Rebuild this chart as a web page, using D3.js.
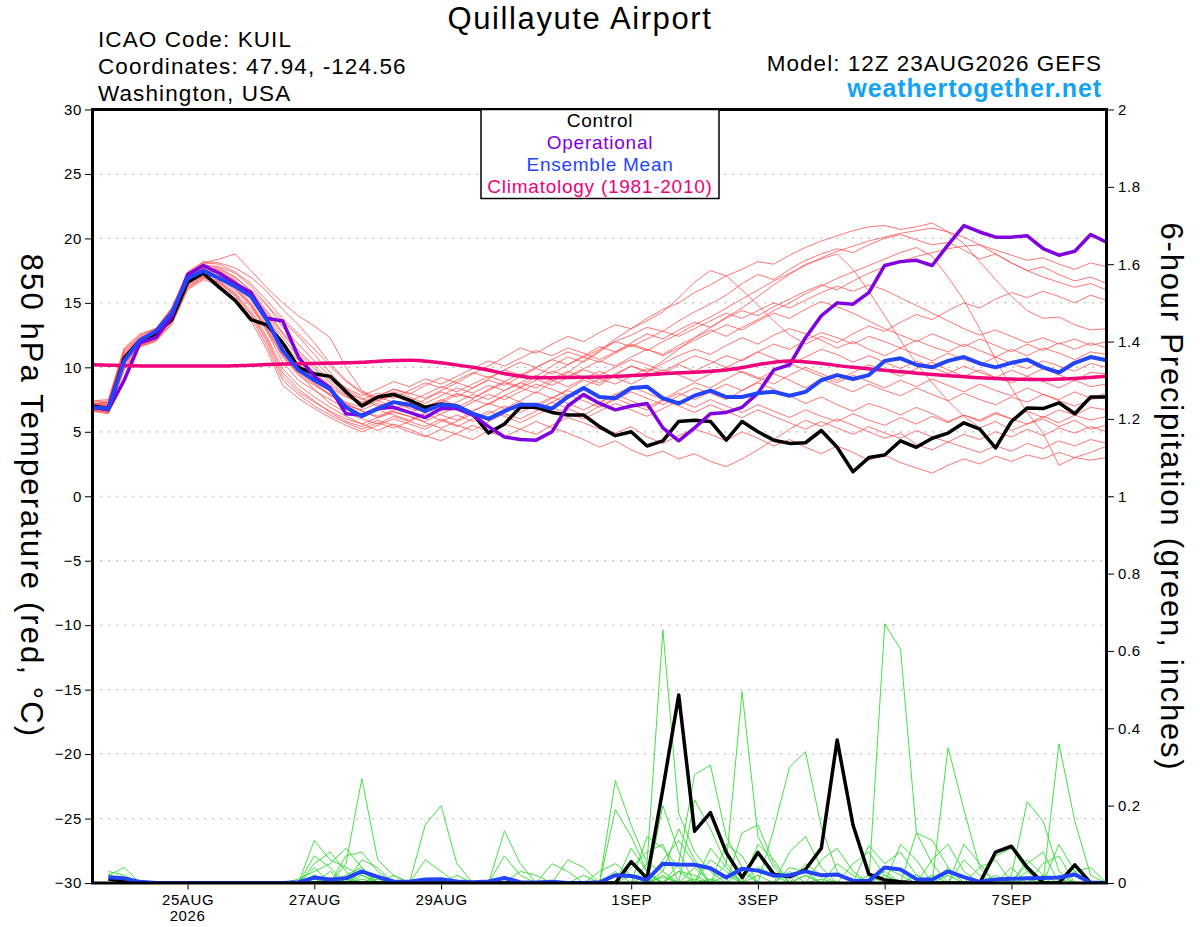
<!DOCTYPE html>
<html>
<head>
<meta charset="utf-8">
<script src="https://cdn.jsdelivr.net/npm/d3@7"></script>
<style>
  body { margin: 0; background: #fff; }
  svg { font-family: 'Liberation Sans', Arial, Helvetica, sans-serif; }
</style>
</head>
<body>
<svg id="chart" width="1200" height="927"></svg>
<script>
// run start, 6-hourly steps
const runStart = '2026-08-23T12:00:00Z'
const stepHours = 6

// 850 hPa temperature, degC, 12Z 23AUG .. 12Z 8SEP every 6h (65 values)
const control = [
  7.0, 6.8, 10.7, 12.1, 12.6, 13.7, 16.6, 17.3, 16.2, 15.2, 13.7, 13.3, 11.9,
  10.0, 9.5, 9.3, 8.1, 7.0, 7.7, 7.9, 7.45, 6.9, 7.15, 7.0, 6.4, 4.9,
  5.6, 6.9, 6.9, 6.5, 6.3, 6.3, 5.4, 4.7, 5.0, 3.9, 4.3, 5.8, 5.9,
  5.8, 4.35, 5.8, 5.0, 4.35, 4.1, 4.15, 5.1, 3.8, 1.9, 3.0, 3.2, 4.3,
  3.8, 4.5, 4.9, 5.7, 5.2, 3.75, 5.8, 6.85, 6.8, 7.25, 6.4, 7.7, 7.7
]
const operational = [
  6.9, 6.7, 9.0, 11.9, 12.3, 13.9, 17.2, 17.9, 17.3, 16.5, 15.8, 13.8, 13.6,
  10.8, 9.3, 8.4, 6.4, 6.3, 6.8, 6.9, 6.5, 6.1, 6.8, 6.8, 6.3, 5.4,
  4.6, 4.4, 4.35, 5.0, 7.0, 7.9, 7.2, 6.7, 7.0, 7.2, 5.3, 4.3, 5.3,
  6.4, 6.5, 6.9, 8.0, 9.8, 10.2, 12.3, 14.0, 15.0, 14.9, 15.8, 17.9, 18.2,
  18.3, 17.9, 19.5, 21.0, 20.5, 20.1, 20.1, 20.2, 19.2, 18.7, 19.0, 20.3, 19.7
]
const ensembleMean = [
  6.9, 6.8, 10.5, 12.1, 12.8, 14.2, 16.9, 17.5, 16.9, 16.3, 15.5, 13.7, 11.3,
  9.8, 9.0, 8.3, 6.9, 6.2, 6.8, 7.3, 7.1, 6.6, 7.1, 7.0, 6.4, 6.0,
  6.6, 7.1, 7.1, 6.8, 7.7, 8.4, 7.7, 7.6, 8.4, 8.5, 7.6, 7.2, 7.8,
  8.2, 7.7, 7.7, 8.0, 8.1, 7.8, 8.1, 9.0, 9.4, 9.1, 9.4, 10.5, 10.7,
  10.2, 10.0, 10.5, 10.8, 10.3, 10.0, 10.35, 10.6, 10.0, 9.6, 10.35, 10.8, 10.55
]
// climatology, one value per day at 12Z
const climatology = [10.2, 10.1, 10.1, 10.25, 10.35, 10.55, 10.0, 9.2, 9.25, 9.5, 9.8, 10.5, 10.0, 9.55, 9.2, 9.05, 9.3]

// ensemble members, temperature
const memberTemps = [
  [7.2,7.0,11.2,12.3,12.9,14.5,17.2,18.0,17.7,17.0,16.0,14.8,13.6, 12.4,11.0,9.6,8.3,7.6,7.0,7.3,6.8,6.6,7.2,7.9,7.6,8.3, 8.9,8.5,9.3,10.1,10.8,10.4,11.2,12.0,12.5,13.1,12.8,13.6,14.3, 14.9,15.6,16.5,17.2,16.8,17.6,18.3,18.8,19.2,18.9,19.5,20.0,20.3, 19.9,19.5,19.7,19.1,18.4,18.8,18.1,17.5,17.8,17.2,16.7,17.0,16.5],
  [6.8,6.7,10.5,11.8,12.5,14.0,16.7,17.4,17.0,16.2,14.9,13.0,10.8, 9.4,8.6,7.9,7.2,6.6,6.1,6.5,6.2,5.8,6.4,6.9,7.5,7.1, 7.8,8.4,8.0,8.9,9.6,10.5,11.3,12.2,13.0,13.8,14.5,15.0,15.8, 16.4,17.1,17.6,18.2,18.0,18.7,19.3,19.8,20.2,20.6,20.9,21.0,20.7, 20.9,21.2,20.5,19.6,18.2,16.8,15.5,14.4,13.8,13.9,13.3,12.9,13.0],
  [6.9,6.6,10.2,11.7,12.2,13.6,16.3,17.0,16.6,15.6,14.2,12.2,9.6, 8.3,7.4,6.5,5.8,5.4,5.9,5.5,5.0,4.6,5.2,4.8,4.4,5.1, 5.6,5.2,4.8,5.5,6.1,5.7,5.2,4.9,5.4,4.6,4.1,4.7,5.2, 4.8,4.3,5.0,4.5,3.9,4.4,3.8,3.3,3.9,3.4,2.8,3.2,2.6, 2.2,1.8,2.4,2.9,2.5,3.1,2.7,3.2,2.9,3.4,3.0,2.8,3.0],
  [7.1,7.3,11.0,12.1,12.8,14.3,17.0,17.8,17.5,16.8,15.5,13.9,12.0, 10.5,9.3,8.1,7.3,6.9,7.4,7.0,6.5,6.9,6.3,5.9,6.6,7.2, 6.8,7.4,8.1,7.6,8.3,9.0,8.6,9.4,10.1,9.7,10.5,11.4,12.3, 13.1,13.9,14.6,15.5,16.4,17.2,18.0,18.4,18.8,17.6,15.9,14.0,12.1, 10.3,8.8,7.4,6.2,5.3,5.8,5.1,5.6,6.0,5.4,5.9,5.2,5.5],
  [7.0,6.8,10.9,12.0,12.6,14.1,16.8,17.5,17.3,16.6,15.6,14.3,12.6, 11.1,9.9,8.8,7.9,7.3,7.8,8.3,8.0,7.6,8.2,8.8,8.4,9.1, 9.8,9.4,10.0,10.6,10.2,10.9,11.6,11.2,11.9,12.6,12.2,12.9,13.5, 13.1,13.8,14.4,14.0,14.7,15.3,15.9,16.4,16.0,16.7,17.3,17.8,18.2, 18.6,18.9,19.2,19.4,19.5,19.1,18.7,18.3,18.5,18.0,17.6,18.1,17.8],
  [6.7,6.5,10.4,11.9,12.4,13.8,16.5,17.2,16.9,16.0,14.7,12.8,10.4, 9.0,8.2,7.5,6.8,6.2,6.7,6.3,5.9,6.5,7.1,6.7,7.3,7.9, 7.5,8.1,8.7,8.3,7.8,8.5,9.1,8.7,9.3,9.9,9.5,10.2,9.7, 10.3,10.9,10.5,11.2,11.8,11.4,12.1,12.7,12.3,11.8,12.4,12.0,11.5, 12.1,11.6,11.2,11.8,11.3,10.8,11.4,10.9,11.5,11.1,10.6,11.2,11.0],
  [7.3,7.4,11.4,12.5,13.0,14.6,17.3,18.1,18.0,17.4,16.5,15.2,13.8, 12.6,11.4,10.1,8.9,8.0,7.4,7.8,7.3,6.9,7.5,7.0,6.6,7.2, 7.8,7.3,6.9,7.6,8.2,7.7,7.2,7.9,8.5,8.0,7.5,8.2,8.8, 8.4,9.1,9.7,9.2,8.7,9.4,10.0,9.5,9.0,9.6,10.2,9.8,9.3, 9.9,10.4,9.8,9.3,9.8,9.2,8.8,9.3,8.9,8.4,9.0,8.5,8.7],
  [6.6,6.4,9.8,11.6,12.0,13.4,16.1,16.9,16.6,15.7,14.1,12.0,9.3, 8.1,7.3,6.6,6.0,5.6,6.1,6.6,6.2,5.7,5.3,5.8,6.4,6.0, 6.5,7.1,6.7,7.3,7.9,7.4,6.9,7.5,8.1,7.6,7.1,7.8,8.4, 8.0,7.5,8.2,8.8,8.3,7.8,7.2,7.7,7.1,6.6,7.2,6.8,6.3, 6.9,6.4,5.8,6.3,5.9,6.5,6.0,5.6,6.2,5.7,6.3,5.9,6.2],
  [7.1,6.9,10.7,12.2,12.8,14.3,17.0,17.7,17.4,16.7,15.4,13.6,11.6, 10.2,9.1,8.4,7.7,7.2,7.7,8.3,7.9,8.6,9.2,8.8,9.5,10.1, 10.8,11.5,11.1,11.8,12.4,12.0,12.7,13.3,13.0,13.6,14.3,15.4,16.6, 17.5,17.1,16.0,14.8,13.6,12.5,11.8,12.4,11.9,12.6,13.2,12.8,13.5, 14.1,13.7,14.4,15.0,14.6,15.3,15.8,15.4,15.9,15.5,15.0,15.6,15.2],
  [6.9,7.1,10.9,12.0,12.6,14.0,16.8,17.5,17.1,16.3,15.0,13.2,11.0, 9.6,8.7,7.8,7.1,6.7,7.2,6.8,7.4,7.0,6.6,7.3,7.9,7.5, 8.2,8.8,8.4,9.1,9.7,9.2,8.8,9.5,10.1,9.6,10.3,10.9,11.4, 11.0,11.7,12.3,11.8,12.5,13.0,12.6,12.1,11.5,12.0,11.4,10.9,11.5, 11.0,10.5,11.1,10.6,10.2,10.8,10.3,9.9,10.5,10.1,9.7,10.3,10.0],
  [7.0,6.7,10.6,11.9,12.5,14.1,16.7,17.4,17.0,16.1,14.8,12.9,10.9, 9.5,8.3,7.2,6.5,6.0,5.6,6.2,5.8,5.4,6.0,5.5,5.1,5.8, 6.4,6.0,6.6,7.3,6.8,6.3,7.0,7.6,7.1,6.7,7.4,8.0,7.5, 8.1,8.7,8.2,8.9,9.5,9.0,8.4,9.1,8.6,8.1,8.7,8.2,7.8, 8.4,7.9,7.4,8.0,7.5,7.1,7.7,7.3,7.9,7.4,7.0,7.5,7.7],
  [6.8,6.6,10.3,11.8,12.3,13.7,16.4,17.1,16.7,15.8,14.4,12.4,9.9, 8.6,7.7,6.9,6.2,5.6,5.1,5.6,5.2,4.7,4.3,4.9,5.5,5.0, 4.6,5.2,5.8,5.3,4.9,4.4,3.8,4.3,3.6,3.1,3.5,2.9,3.3, 2.7,2.3,2.9,3.6,4.4,5.2,5.9,5.4,6.0,5.5,5.0,4.5,4.9, 4.0,3.6,4.2,3.8,3.4,3.9,3.5,4.1,3.7,4.3,3.9,4.4,4.1],
  [7.2,7.1,11.1,12.2,12.9,14.4,17.1,17.8,17.6,17.0,15.9,14.4,12.7, 11.3,10.1,9.0,8.1,7.5,8.0,7.6,8.2,8.8,8.4,9.0,9.6,9.2, 9.8,10.4,10.0,10.6,11.2,10.8,11.4,12.0,11.6,12.2,12.8,12.4,13.0, 13.6,14.2,13.8,14.4,15.0,14.6,15.2,15.8,16.3,15.9,16.4,16.0,15.4, 14.8,14.2,13.6,13.0,12.5,12.9,12.4,11.9,12.3,11.8,12.2,11.7,12.0],
  [6.9,6.8,10.6,12.1,12.7,14.2,16.9,17.6,17.3,16.5,15.3,13.4,11.3, 9.9,8.8,7.9,7.1,6.6,6.2,6.7,7.2,6.8,7.4,8.0,7.6,8.2, 8.8,8.4,9.0,9.7,9.3,9.9,10.5,10.1,10.8,11.4,11.0,11.7,12.3, 12.9,12.4,13.1,13.7,14.4,15.0,15.7,16.3,16.9,17.4,17.9,18.4,18.9, 19.3,18.6,17.0,15.2,13.0,10.6,8.4,6.5,4.9,2.4,3.0,3.4,3.9],
  [7.4,7.5,11.5,12.6,13.0,14.6,17.4,18.2,18.1,17.7,17.0,15.9,14.5, 13.3,11.9,10.3,9.0,8.1,7.5,7.9,7.4,7.9,8.5,8.1,8.7,9.3, 8.9,9.5,9.1,8.6,9.2,9.8,9.4,10.0,10.6,10.2,9.7,10.3,10.9, 10.5,10.0,10.6,11.2,10.7,10.2,10.8,11.4,11.0,10.4,10.9,10.4,9.9, 10.5,10.0,9.5,10.1,9.6,9.2,9.8,9.3,9.9,9.4,9.0,9.6,9.5],
  [6.7,6.6,10.1,11.7,12.1,13.5,16.2,17.0,16.5,15.5,13.9,11.7,9.0, 7.9,7.0,6.3,5.7,5.2,5.7,5.3,5.8,6.4,5.9,5.4,6.0,6.6, 6.2,5.7,6.3,6.9,6.4,6.0,6.6,7.2,6.7,6.2,6.8,7.4,6.9, 7.5,7.0,6.5,7.1,6.6,6.1,6.7,6.2,5.8,6.4,5.9,5.5,6.1, 5.6,6.2,5.7,6.3,5.8,6.4,6.0,6.6,6.1,6.7,6.3,6.9,6.7],
  [7.0,7.0,10.8,12.0,12.7,14.2,16.9,17.7,17.4,16.7,15.7,14.1,12.3, 10.8,9.6,8.6,7.8,7.2,7.7,7.3,6.9,7.5,8.1,7.7,8.4,9.0, 8.6,9.3,9.9,9.5,10.2,10.8,10.4,11.1,11.7,11.3,12.0,12.6,13.3, 13.9,14.6,15.3,16.0,16.7,17.3,17.9,18.5,19.0,19.4,19.8,20.1,20.4, 20.6,20.8,20.5,20.1,19.5,18.8,18.1,17.5,17.0,16.6,16.2,16.5,16.0],
  [6.6,6.5,9.9,11.6,12.1,13.3,16.0,16.8,16.4,15.3,13.6,11.4,8.6, 7.6,6.8,6.1,5.5,5.0,5.5,6.0,5.6,5.2,5.8,6.3,5.8,6.4, 7.0,6.5,7.1,7.7,7.2,6.7,7.3,7.9,7.4,6.9,7.5,7.0,6.5, 7.1,6.6,6.1,6.7,6.2,5.7,5.2,5.8,5.3,4.8,5.4,4.9,4.5, 5.1,4.6,4.2,4.8,4.4,5.0,4.6,5.2,4.7,5.3,4.9,5.4,5.0],
  [7.1,7.2,11.0,12.3,12.8,14.4,17.1,17.9,17.8,17.3,16.3,14.9,13.1, 11.8,10.5,9.3,8.4,7.8,8.3,8.9,8.5,9.1,8.7,9.3,9.9,10.5, 10.1,10.7,11.3,10.9,11.5,11.1,10.6,11.2,11.8,11.4,10.9,11.5,12.1, 12.7,13.3,12.9,13.6,14.2,13.8,14.5,15.1,14.7,14.2,13.6,13.0,12.5, 12.0,12.6,12.1,11.6,12.2,11.7,11.2,11.8,11.3,11.9,11.4,11.9,11.5],
  [7.2,7.3,11.3,12.4,13.0,14.5,17.3,18.1,18.4,18.8,17.5,16.2,15.0, 14.0,13.2,12.3,10.0,8.2,7.6,8.1,7.7,7.2,7.8,8.4,8.0,8.6, 8.2,8.8,9.4,9.0,8.5,9.1,9.7,9.2,8.7,9.3,9.8,9.4,8.9, 9.5,10.0,9.6,9.1,9.7,10.3,9.8,9.3,8.8,9.4,8.9,8.4,9.0, 8.5,9.1,8.6,8.1,8.7,8.2,7.8,8.4,7.9,7.5,8.1,7.6,8.0]
]

// 6-hour precipitation, inches, 18Z 23AUG .. 12Z 8SEP (64 values)
const controlPrecip = [
  .01,.005,0,0,0,0,0,0,0,0,0,0,0,0,0,0,
  0,0,0,0,0,0,0,0,0,0,0,0,0,0,0,0,
  0,.055,.012,.243,.486,.134,.182,.079,.014,.079,.023,.016,.035,.09,.37,.15,
  .023,.008,.003,0,0,0,0,0,.08,.095,.04,0,0,.047,0,0
]
const meanPrecip = [
  .015,.012,.003,0,0,0,0,0,0,0,0,0,.002,.014,.009,.012,
  .03,.016,.004,.003,.009,.01,.004,.002,.004,.013,.002,.001,.003,0,0,.002,
  .02,.018,.008,.05,.048,.047,.038,.014,.037,.032,.019,.02,.03,.02,.022,.006,
  .005,.04,.035,.01,.009,.03,.015,.003,.009,.011,.012,.013,.014,.022,.001,0
]
const memberPrecip = [
  [.03,.02,0,0,0,0,0,0,0,0,0,0,0,.11,.06,.04, .02,0,0,0,0,0,0,0,0,0,0,0,0,0,0,0, .265,.15,.05,.655,.18,.08,.03,0,0,0,0,0,.05,.02,0,0, 0,.04,.02,0,0,0,0,0,0,.02,.21,.16,.03,0,0,0],
  [.02,.04,0,0,0,0,0,0,0,0,0,0,0,0,0,.05, .27,.06,.02,0,0,0,0,0,0,0,0,0,0,0,0,0, .19,.12,.03,0,.05,.28,.305,.12,.04,0,0,0,0,0,0,0, 0,.67,.605,.13,.05,0,0,0,0,0,0,0,.36,.16,.02,0],
  [.025,0,0,0,0,0,0,0,0,0,0,0,0,.07,.04,0, 0,0,0,0,.15,.2,.05,0,0,0,0,0,0,0,0,0, 0,0,.12,.09,.04,0,0,.05,.495,.12,.04,0,0,0,0,0, 0,0,0,0,0,.35,.19,.04,0,0,0,0,0,0,0,0],
  [.02,.01,0,0,0,0,0,0,0,0,0,0,0,.05,.08,.03, 0,0,0,0,0,0,0,0,0,.135,.05,0,0,0,0,0, 0,0,0,0,0,.215,.14,.05,0,0,.14,.3,.34,.145,.03,0, 0,0,0,0,0,0,.1,.05,0,0,.05,.08,0,0,0,0],
  [0,0,0,0,0,0,0,0,0,0,0,0,0,.04,0,.07, .08,.03,0,0,0,0,0,0,0,.07,.02,0,0,0,0,0, 0,0,0,.06,.11,.05,0,0,0,.1,.06,0,0,0,0,0, .097,.05,.08,.02,0,0,0,0,.07,.09,.03,0,0,0,0,0],
  [0,0,0,0,0,0,0,0,0,0,0,0,.01,.03,.05,.09, .04,0,0,0,0,0,0,0,0,0,0,0,0,.06,.04,0, 0,0,0,.03,.14,.06,0,0,0,0,0,.08,.12,.04,0,0, 0,0,0,.13,.11,.04,0,0,0,0,0,0,0,.03,.04,0],
  [0,0,0,0,0,0,0,0,0,0,0,0,0,.02,0,0, .06,.04,0,0,0,0,0,0,0,0,0,0,.05,.03,0,0, 0,.04,.08,.1,0,0,.06,.03,0,0,0,0,0,.06,.09,.03, 0,0,0,0,.06,.1,.03,0,0,0,.06,.02,0,0,0,0],
  [0,0,0,0,0,0,0,0,0,0,0,0,0,0,0,.02, .04,0,0,0,.06,.03,0,0,0,0,0,0,0,0,0,.03, .05,.02,0,0,0,.04,0,0,.13,.15,.05,0,0,0,0,.05, .08,.02,0,0,0,0,0,.04,.06,0,0,0,.1,.03,0,0],
  [0,0,0,0,0,0,0,0,0,0,0,0,0,0,.03,0, 0,.02,0,0,0,0,0,0,0,0,.03,.02,0,0,0,0, 0,.09,.03,0,0,0,0,.1,.07,0,0,.04,.03,0,0,0, 0,0,.1,.06,0,0,0,0,0,.04,0,.05,.07,0,0,0],
  [0,0,0,0,0,0,0,0,0,0,0,0,0,.01,0,0, .03,0,0,0,0,0,.02,0,0,0,0,0,0,0,0,0, .03,0,0,.2,.08,0,0,0,0,.04,.02,0,0,0,.05,.02, 0,0,0,0,0,0,.06,.02,0,0,0,0,0,.05,0,0],
  [0,0,0,0,0,0,0,0,0,0,0,0,0,0,0,.015, 0,0,.02,0,0,0,0,0,0,0,0,0,0,0,.02,0, 0,0,.05,.03,0,0,.09,.04,0,0,0,0,.02,0,0,0, 0,.03,0,0,0,.04,0,0,.02,0,.03,0,0,0,0,0],
  [0,0,0,0,0,0,0,0,0,0,0,0,0,0,0,0, .02,0,0,0,0,.01,0,0,0,0,0,0,0,0,0,0, 0,.02,0,0,.03,.02,0,0,0,0,0,.03,0,0,0,0, 0,0,0,0,.02,0,0,0,0,0,0,.02,.01,0,0,0],
  [0,0,0,0,0,0,0,0,0,0,0,0,0,0,.01,0, 0,0,0,0,0,0,0,0,0,0,0,0,0,0,0,0, 0,0,0,.02,0,0,0,0,.03,0,0,0,0,0,0,0, 0,.02,0,0,0,0,0,0,0,0,0,0,0,0,0,0],
  [0,0,0,0,0,0,0,0,0,0,0,0,0,0,0,0, .01,0,0,0,0,0,0,0,0,0,0,0,0,0,0,0, 0,0,0,0,.03,0,0,0,0,0,0,0,.02,0,0,0, 0,0,0,0,0,0,0,0,0,0,0,0,0,0,0,0],
  [0,0,0,0,0,0,0,0,0,0,0,0,0,.02,0,0, 0,0,0,0,0,0,0,0,0,0,0,0,0,0,0,0, 0,0,0,0,0,.01,0,0,0,0,0,0,0,0,0,0, 0,0,0,.02,0,0,0,0,0,0,.01,0,0,0,0,0],
  [0,0,0,0,0,0,0,0,0,0,0,0,0,0,0,.01, 0,0,0,0,0,0,0,0,0,0,0,0,0,0,0,0, 0,0,.02,0,0,0,0,0,0,0,0,0,0,.01,0,0, 0,0,0,0,0,0,0,0,0,0,0,0,0,0,0,0],
  [0,.01,0,0,0,0,0,0,0,0,0,0,0,0,0,0, 0,0,0,0,0,0,0,0,0,0,0,0,0,0,0,0, 0,0,0,.015,0,0,0,0,0,0,0,0,0,0,0,0, 0,0,0,0,0,.02,0,0,0,0,0,0,0,0,0,0],
  [0,0,0,0,0,0,0,0,0,0,0,0,0,0,0,0, 0,.01,0,0,0,0,0,0,0,0,0,0,0,0,0,0, 0,0,0,0,0,0,0,.02,0,0,0,0,0,0,0,0, 0,0,0,0,0,0,0,0,0,0,0,0,.02,0,0,0],
  [0,0,0,0,0,0,0,0,0,0,0,0,0,0,0,0, 0,0,0,0,0,0,0,0,0,0,0,0,0,0,0,0, 0,0,0,0,0,0,.01,0,0,0,0,0,0,0,0,0, .02,0,0,0,0,0,0,0,0,0,0,0,0,0,0,0],
  [.01,0,0,0,0,0,0,0,0,0,0,0,0,0,0,0, 0,0,0,0,0,0,0,0,0,0,0,0,0,0,0,0, 0,0,0,0,0,0,0,0,0,.02,0,0,0,0,0,0, 0,0,0,0,0,0,0,0,.01,0,0,0,0,0,0,0]
]

// axes
const tempTicks = [-30, -25, -20, -15, -10, -5, 0, 5, 10, 15, 20, 25, 30]
const precipTicks = [0, 0.2, 0.4, 0.6, 0.8, 1, 1.2, 1.4, 1.6, 1.8, 2]
const xTickDays = ['2026-08-25', '2026-08-27', '2026-08-29', '2026-09-01', '2026-09-03', '2026-09-05', '2026-09-07']
const xTickLabels = ['25AUG', '27AUG', '29AUG', '1SEP', '3SEP', '5SEP', '7SEP']

const legendItems = [
  { label: 'Control', color: '#000000' },
  { label: 'Operational', color: '#8000e0' },
  { label: 'Ensemble Mean', color: '#2244ff' },
  { label: 'Climatology (1981-2010)', color: '#f0007a' }
]

const plot = { left: 92.5, right: 1106.5, top: 109.5, bottom: 883 }
const colors = { member: '#ff4a4a', memberPrecip: '#2fdc2f', control: '#000000', operational: '#8000e0', mean: '#2244ff', clim: '#f0007a' }

const t0 = new Date(runStart)
const time_at = (i, hours = stepHours) => new Date(t0.getTime() + i * hours * 3600e3)

const svg = d3.select('#chart')

const x = d3.scaleUtc()
  .domain([t0, time_at(64)])
  .range([plot.left, plot.right])
const yT = d3.scaleLinear().domain([-30, 30]).range([plot.bottom, plot.top])
const yP = d3.scaleLinear().domain([0, 2]).range([plot.bottom, plot.top])

// the original lettering runs a little wider than Arial, hence the letter-spacing
function add_text (parent, { x, y, text, size, anchor = 'start', spacing = 0, weight = 'normal', fill = '#000', transform }) {
  const t = parent.append('text')
    .attr('text-anchor', anchor)
    .attr('font-size', size)
    .attr('font-weight', weight)
    .attr('letter-spacing', spacing)
    .attr('fill', fill)
    .text(text)
  if (transform) t.attr('transform', transform)
  else t.attr('x', x).attr('y', y)
  return t
}

function add_header_text (svg) {
  add_text(svg, { x: 580, y: 29, text: 'Quillayute Airport', size: 31, anchor: 'middle', spacing: 1.6 })

  const left = ['ICAO Code: KUIL', 'Coordinates: 47.94, -124.56', 'Washington, USA']
  left.forEach((d, i) => {
    add_text(svg, { x: 98, y: 46.7 + i * 27, text: d, size: 22.5, spacing: 1.1 })
  })

  add_text(svg, { x: 1102, y: 71, text: 'Model: 12Z 23AUG2026 GEFS', size: 22.5, anchor: 'end', spacing: 1.0 })
  add_text(svg, { x: 1102, y: 97, text: 'weathertogether.net', size: 25, anchor: 'end', spacing: 0.9, weight: 'bold', fill: '#12a3f5' })
}

function add_grid (svg) {
  svg.append('g')
    .selectAll('line')
    .data(tempTicks.filter(d => d > -30 && d < 30))
    .enter().append('line')
    .attr('x1', plot.left).attr('x2', plot.right)
    .attr('y1', d => yT(d)).attr('y2', d => yT(d))
    .attr('stroke', '#a8a8a8')
    .attr('stroke-width', 1.2)
    .attr('stroke-dasharray', '1.5,6.5')
}

function style_axis (g, size) {
  g.select('.domain').remove()
  g.selectAll('.tick line').attr('stroke', '#000').attr('stroke-width', 1)
  g.selectAll('.tick text').attr('font-size', size).attr('fill', '#000')
    .attr('letter-spacing', 0.6)
    .attr('font-family', "'Liberation Sans', Arial, sans-serif")
}

function add_axes (svg) {
  const left = svg.append('g')
    .attr('transform', `translate(${plot.left - 1.5},0)`)
    .call(d3.axisLeft(yT).tickValues(tempTicks).tickSize(6).tickPadding(3))
  style_axis(left, 15)

  const right = svg.append('g')
    .attr('transform', `translate(${plot.right + 1.5},0)`)
    .call(d3.axisRight(yP).tickValues(precipTicks).tickSize(6).tickPadding(4)
      .tickFormat(d => d3.format('.1~f')(d)))
  style_axis(right, 15)

  const bottom = svg.append('g')
    .attr('transform', `translate(0,${plot.bottom + 1.5})`)
    .call(d3.axisBottom(x).tickValues(xTickDays.map(d => new Date(d + 'T00:00:00Z')))
      .tickSize(5).tickPadding(5)
      .tickFormat((d, i) => xTickLabels[i]))
  style_axis(bottom, 15)

  add_text(svg, { x: x(new Date(xTickDays[0] + 'T00:00:00Z')), y: 921, text: '2026', size: 15, anchor: 'middle', spacing: 0.6 })

  add_text(svg, { transform: 'translate(21,496) rotate(90)', text: '850 hPa Temperature (red, °C)', size: 31, anchor: 'middle', spacing: 2.1 })
  add_text(svg, { transform: 'translate(1161,497) rotate(90)', text: '6-hour Precipitation (green, inches)', size: 31, anchor: 'middle', spacing: 1.8 })
}

function add_lines (svg) {
  svg.append('clipPath').attr('id', 'plot-clip')
    .append('rect')
    .attr('x', plot.left).attr('y', plot.top)
    .attr('width', plot.right - plot.left).attr('height', plot.bottom - plot.top)

  const g = svg.append('g').attr('clip-path', 'url(#plot-clip)')

  const tempLine = d3.line()
    .x((d, i) => x(time_at(i)))
    .y(d => yT(d))
  const precipLine = d3.line()
    .x((d, i) => x(time_at(i + 1)))
    .y(d => yP(d))
  const climLine = d3.line()
    .x((d, i) => x(time_at(i, 24)))
    .y(d => yT(d))
    .curve(d3.curveMonotoneX)

  g.append('g').selectAll('path').data(memberTemps)
    .enter().append('path')
    .attr('d', tempLine)
    .attr('fill', 'none')
    .attr('stroke', colors.member)
    .attr('stroke-opacity', 0.85)
    .attr('stroke-width', 0.9)

  g.append('g').selectAll('path').data(memberPrecip)
    .enter().append('path')
    .attr('d', precipLine)
    .attr('fill', 'none')
    .attr('stroke', colors.memberPrecip)
    .attr('stroke-width', 0.9)

  const thick = [
    { d: tempLine(control), color: colors.control, w: 3.5 },
    { d: precipLine(controlPrecip), color: colors.control, w: 3.5 },
    { d: tempLine(operational), color: colors.operational, w: 3.5 },
    { d: climLine(climatology), color: colors.clim, w: 3.5 },
    { d: tempLine(ensembleMean), color: colors.mean, w: 4 },
    { d: precipLine(meanPrecip), color: colors.mean, w: 4 }
  ]
  g.append('g').selectAll('path').data(thick)
    .enter().append('path')
    .attr('d', d => d.d)
    .attr('fill', 'none')
    .attr('stroke', d => d.color)
    .attr('stroke-width', d => d.w)
    .attr('stroke-linejoin', 'round')
}

function add_frame (svg) {
  svg.append('rect')
    .attr('x', plot.left).attr('y', plot.top)
    .attr('width', plot.right - plot.left).attr('height', plot.bottom - plot.top)
    .attr('fill', 'none')
    .attr('stroke', '#000')
    .attr('stroke-width', 3)
}

function add_legend (svg) {
  const box = { x: 481, y: plot.top, w: 238, h: 89 }
  const g = svg.append('g')
  g.append('rect')
    .attr('x', box.x).attr('y', box.y)
    .attr('width', box.w).attr('height', box.h)
    .attr('fill', '#fff')
    .attr('stroke', '#000')
    .attr('stroke-width', 1.5)
  legendItems.forEach((d, i) => {
    add_text(g, { x: box.x + box.w / 2, y: 127 + i * 22, text: d.label, size: 19, anchor: 'middle', spacing: 0.75, fill: d.color })
  })
}

add_header_text(svg)
add_grid(svg)
add_lines(svg)
add_frame(svg)
add_legend(svg)
add_axes(svg)
</script>
</body>
</html>
